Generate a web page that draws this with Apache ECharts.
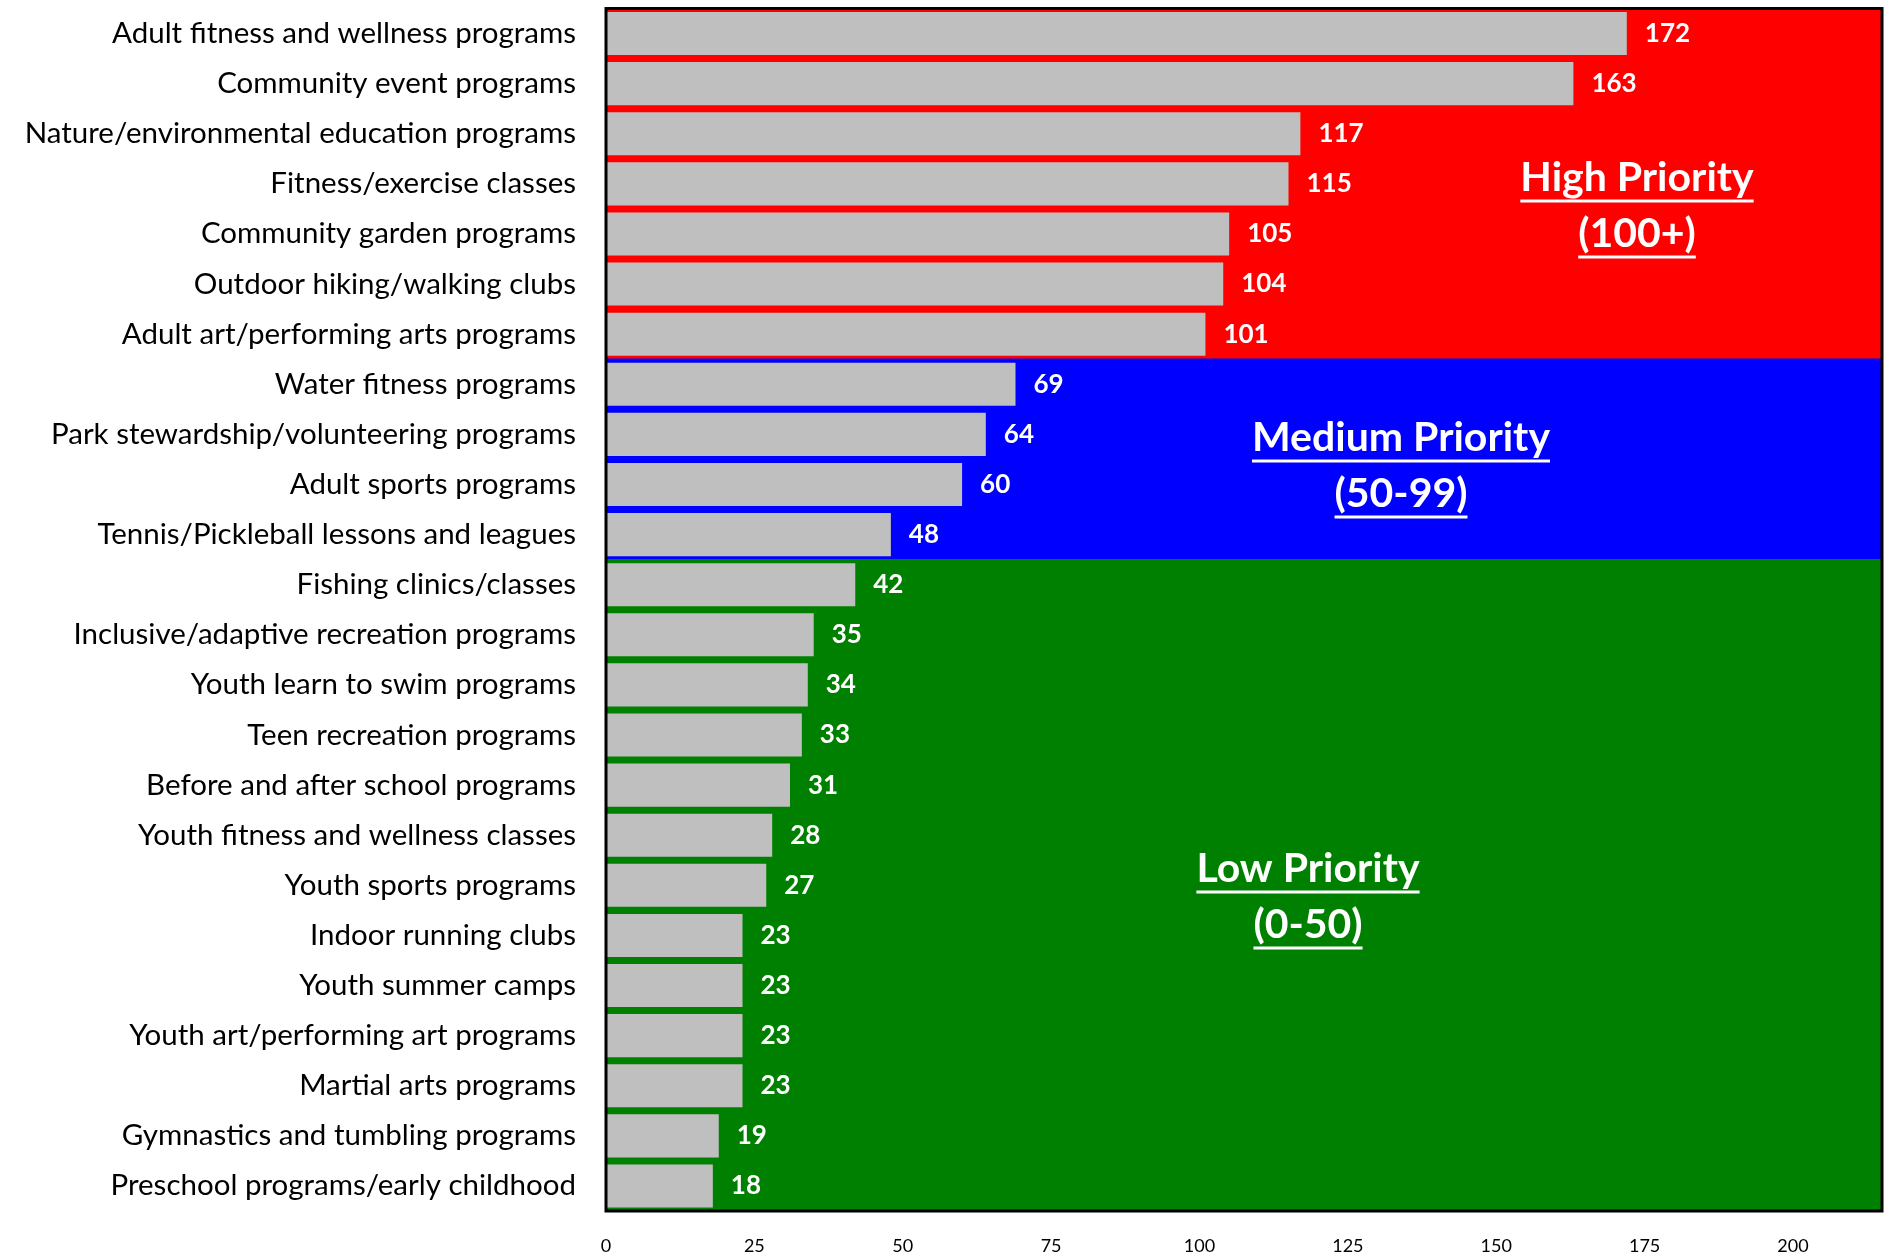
<!DOCTYPE html>
<html>
<head>
<meta charset="utf-8">
<script src="https://cdn.jsdelivr.net/npm/echarts@6/dist/echarts.min.js"></script>
<style>html,body{margin:0;padding:0;background:#fff}#c{width:1890px;height:1257px}</style>
</head>
<body>
<div id="c"></div>
<script>
const categories = [
  'Adult fitness and wellness programs','Community event programs','Nature/environmental education programs',
  'Fitness/exercise classes','Community garden programs','Outdoor hiking/walking clubs',
  'Adult art/performing arts programs','Water fitness programs','Park stewardship/volunteering programs',
  'Adult sports programs','Tennis/Pickleball lessons and leagues','Fishing clinics/classes',
  'Inclusive/adaptive recreation programs','Youth learn to swim programs','Teen recreation programs',
  'Before and after school programs','Youth fitness and wellness classes','Youth sports programs',
  'Indoor running clubs','Youth summer camps','Youth art/performing art programs',
  'Martial arts programs','Gymnastics and tumbling programs','Preschool programs/early childhood'
];
const values = [172,163,117,115,105,104,101,69,64,60,48,42,35,34,33,31,28,27,23,23,23,23,19,18];
const priorityGroup = ['high','high','high','high','high','high','high',
  'medium','medium','medium','medium',
  'low','low','low','low','low','low','low','low','low','low','low','low','low'];
const groupColors = {high:'#FF0000', medium:'#0000FF', low:'#008000'};
const priorityLabels = [
  ['High Priority','(100+)'],
  ['Medium Priority','(50-99)'],
  ['Low Priority','(0-50)']
];
const xTickInterval = 25;
const xMax = 215;

const G = {left:606, top:8.5, right:8, bottom:46};
const chart = echarts.init(document.getElementById('c'), null, {renderer:'canvas'});

const bgData = categories.map((c,i)=>({value:xMax, itemStyle:{color:groupColors[priorityGroup[i]]}}));

const option = {
  animation:false,
  backgroundColor:'#fff',
  grid:{left:G.left, top:G.top, right:G.right, bottom:G.bottom, containLabel:false},
  xAxis:{
    type:'value', min:0, max:xMax, interval:xTickInterval,
    splitLine:{show:false}, axisLine:{show:false}, axisTick:{show:false},
    axisLabel:{fontFamily:'Lato', fontSize:18, color:'#000', margin:26, showMaxLabel:false,
      formatter:v=> (v % xTickInterval === 0 ? String(v) : '')}
  },
  yAxis:[{
    type:'category', data:categories, inverse:true,
    axisLine:{show:false}, axisTick:{show:false},
    axisLabel:{fontFamily:'Lato', fontSize:29.5, color:'#000', margin:30}
  },{
    type:'category', data:categories, inverse:true, show:false
  }],
  series:[{
    type:'bar', yAxisIndex:1, data:bgData, barWidth:'103%', z:1, silent:true,
    itemStyle:{borderWidth:0}
  },{
    type:'bar', yAxisIndex:0, data:values, barCategoryGap:'14%', z:2,
    itemStyle:{color:'#BFBFBF'},
    label:{show:true, position:'right', distance:18, color:'#fff', fontFamily:'Lato', fontWeight:'bold', fontSize:26}
  }]
};
chart.setOption(option);

// border + annotations
const W = 1890, H = 1257;
const gw = W - G.left - G.right, gh = H - G.top - G.bottom;
const ctx = document.createElement('canvas').getContext('2d');
const annFont = 'bold 41px Lato';
ctx.font = annFont;
const annPos = [
  {x:1637, y:[178,234]},
  {x:1401, y:[438,494]},
  {x:1308, y:[869,925]}
];
const graphics = [{
  type:'rect', z:100, shape:{x:G.left, y:G.top, width:gw, height:gh},
  style:{fill:null, stroke:'#000', lineWidth:3}
}];
priorityLabels.forEach((lines,k)=>{
  lines.forEach((t,j)=>{
    const cx = annPos[k].x, cy = annPos[k].y[j];
    graphics.push({type:'text', z:101, x:cx, y:cy,
      style:{text:t, font:annFont, fill:'#fff', align:'center', verticalAlign:'middle'}});
    const w = ctx.measureText(t).width;
    graphics.push({type:'line', z:101, shape:{x1:cx-w/2, y1:cy+23, x2:cx+w/2, y2:cy+23},
      style:{stroke:'#fff', lineWidth:3}});
  });
});
chart.setOption({graphic:graphics});
</script>
</body>
</html>
